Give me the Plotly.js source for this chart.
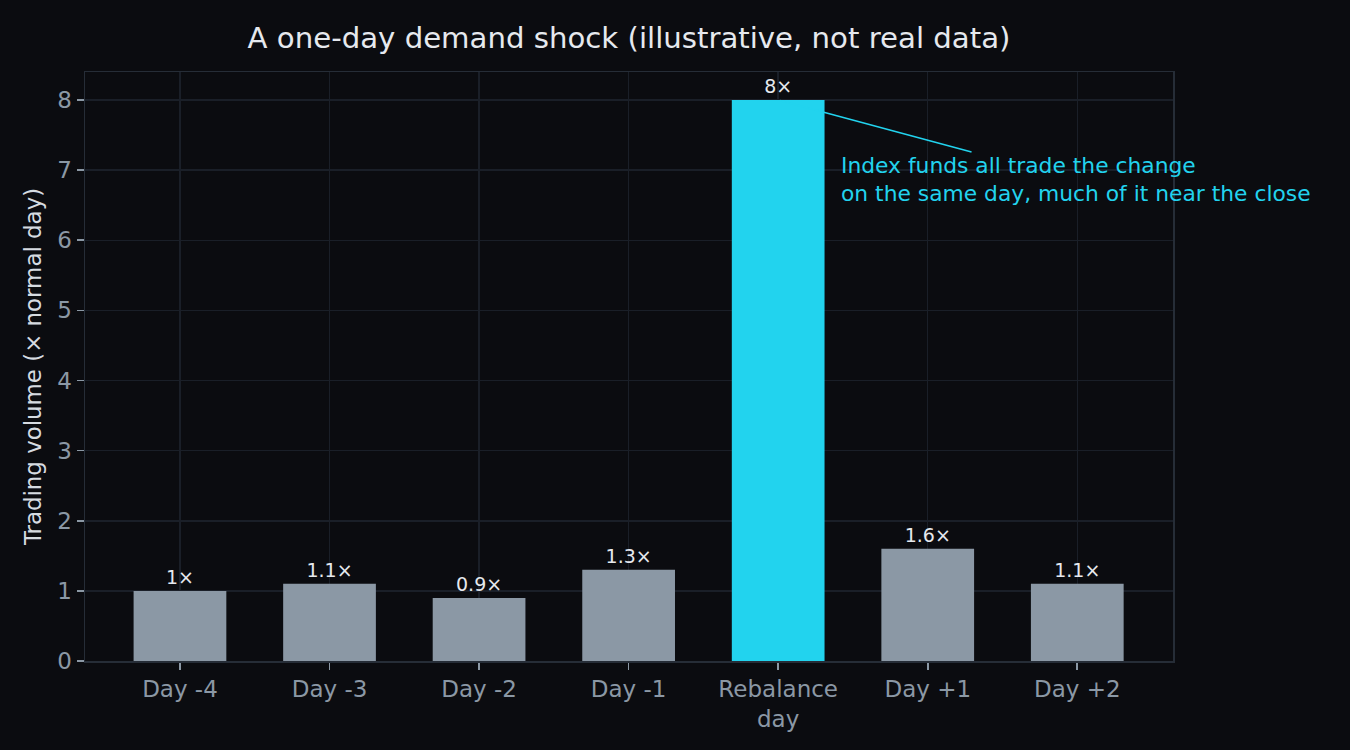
<!DOCTYPE html>
<html>
<head>
<meta charset="utf-8">
<script src="https://cdn.plot.ly/plotly-3.0.1.min.js"></script>
<style>
  html, body { margin: 0; padding: 0; background: #0b0c10; }
  #chart { width: 1350px; height: 750px; }
</style>
</head>
<body>
<div id="chart"></div>
<script>
// illustrative demand shock
var days = ['Day -4', 'Day -3', 'Day -2', 'Day -1', 'Rebalance<br>day', 'Day +1', 'Day +2'];
var volume = [1, 1.1, 0.9, 1.3, 8, 1.6, 1.1];
var volumeLabels = ['1×', '1.1×', '0.9×', '1.3×', '8×', '1.6×', '1.1×'];
var highlightDay = 'Rebalance<br>day';

var grey = '#8b98a5';
var cyan = '#22d3ee';
var barColors = days.map(function (d) { return d === highlightDay ? cyan : grey; });

var trace = {
  x: days,
  y: volume,
  type: 'bar',
  width: 0.62,
  marker: { color: barColors, line: { width: 0 } },
  text: volumeLabels,
  textposition: 'outside',
  textfont: { family: 'DejaVu Sans', size: 19, color: '#e6e9ee' },
  cliponaxis: false,
  hoverinfo: 'skip'
};

var layout = {
  width: 1350,
  height: 750,
  paper_bgcolor: '#0b0c10',
  plot_bgcolor: '#0b0c10',
  font: { family: 'DejaVu Sans', color: '#8b98a5' },
  showlegend: false,
  margin: { l: 85, r: 177, t: 72, b: 89, pad: 0 },
  title: {
    text: 'A one-day demand shock (illustrative, not real data)',
    font: { family: 'DejaVu Sans', size: 29.2, color: '#e6e9ee' },
    xref: 'paper', x: 0.5, xanchor: 'center',
    yref: 'container', y: 1 - 38 / 750, yanchor: 'middle'
  },
  xaxis: {
    type: 'category',
    range: [-0.635, 6.64],
    showgrid: true,
    gridcolor: '#1a1f28',
    gridwidth: 1.5,
    showline: true,
    mirror: true,
    linecolor: '#262d37',
    linewidth: 1.5,
    ticks: 'outside',
    ticklen: 7,
    tickwidth: 1.6,
    tickcolor: '#8b98a5',
    tickfont: { family: 'DejaVu Sans', size: 23, color: '#8b98a5' },
    zeroline: false
  },
  yaxis: {
    range: [0, 8.4],
    dtick: 1,
    tick0: 0,
    showgrid: true,
    gridcolor: '#1a1f28',
    gridwidth: 1.5,
    showline: true,
    mirror: true,
    linecolor: '#262d37',
    linewidth: 1.5,
    ticks: 'outside',
    ticklen: 7,
    tickwidth: 1.6,
    tickcolor: '#8b98a5',
    tickfont: { family: 'DejaVu Sans', size: 23, color: '#8b98a5' },
    zeroline: false,
    title: {
      text: 'Trading volume (× normal day)',
      font: { family: 'DejaVu Sans', size: 22.9, color: '#d6dbe1' },
      standoff: 9
    }
  },
  annotations: [{
    x: highlightDay, y: 8,
    xref: 'x', yref: 'y',
    ax: 5.99, ay: 6.86,
    axref: 'x', ayref: 'y',
    text: 'Index funds all trade the change<br>on the same day, much of it near the close',
    align: 'left',
    showarrow: true,
    arrowhead: 0,
    arrowwidth: 1.6,
    arrowcolor: cyan,
    standoff: 2,
    font: { family: 'DejaVu Sans', size: 21.8, color: cyan }
  }]
};

var config = { displayModeBar: false, displaylogo: false, staticPlot: true };

Plotly.newPlot('chart', [trace], layout, config);
</script>
</body>
</html>
